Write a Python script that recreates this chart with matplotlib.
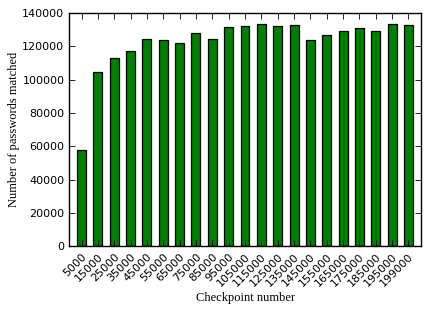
import numpy as np
import matplotlib
matplotlib.use("Agg")
import matplotlib.pyplot as plt
import matplotlib.transforms as mtransforms

checkpoints = ["5000", "15000", "25000", "35000", "45000", "55000", "65000",
               "75000", "85000", "95000", "105000", "115000", "125000",
               "135000", "145000", "155000", "165000", "175000", "185000",
               "195000", "199000"]
matched = [58000, 104300, 113300, 117300, 124700, 123900, 122300,
           128000, 124700, 131400, 132400, 133500, 132000,
           133100, 123900, 126800, 129400, 131000, 129400,
           133300, 132700]

fig = plt.figure(figsize=(4.29, 3.12), dpi=100)
ax = fig.add_axes([0.1615, 0.2106, 0.8192, 0.7477])

x = np.arange(len(checkpoints))
ax.bar(x, matched, width=0.55, color="green", edgecolor="black", linewidth=0.9)

ax.set_xlim(-0.75, len(checkpoints) - 0.25)
ax.set_ylim(0, 140000)
ax.set_yticks(np.arange(0, 140001, 20000))
ax.set_xticks(x)
ax.set_xticklabels(checkpoints, rotation=45, ha="right", rotation_mode="anchor", fontsize=8)
# nudge the rotated labels a little to the right, like the original
shift = mtransforms.ScaledTranslation(0.04, -0.01, fig.dpi_scale_trans)
for lab in ax.get_xticklabels():
    lab.set_transform(lab.get_transform() + shift)
ax.tick_params(axis="y", labelsize=8)
ax.tick_params(direction="in", top=True, right=True, length=4, width=0.6)
for s in ax.spines.values():
    s.set_linewidth(1.0)

ax.set_xlabel("Checkpoint number", family="Liberation Serif", fontsize=9, labelpad=3)
ax.set_ylabel("Number of passwords matched", family="Liberation Serif", fontsize=9, labelpad=1.5)

fig.savefig("out.png", dpi=100)
